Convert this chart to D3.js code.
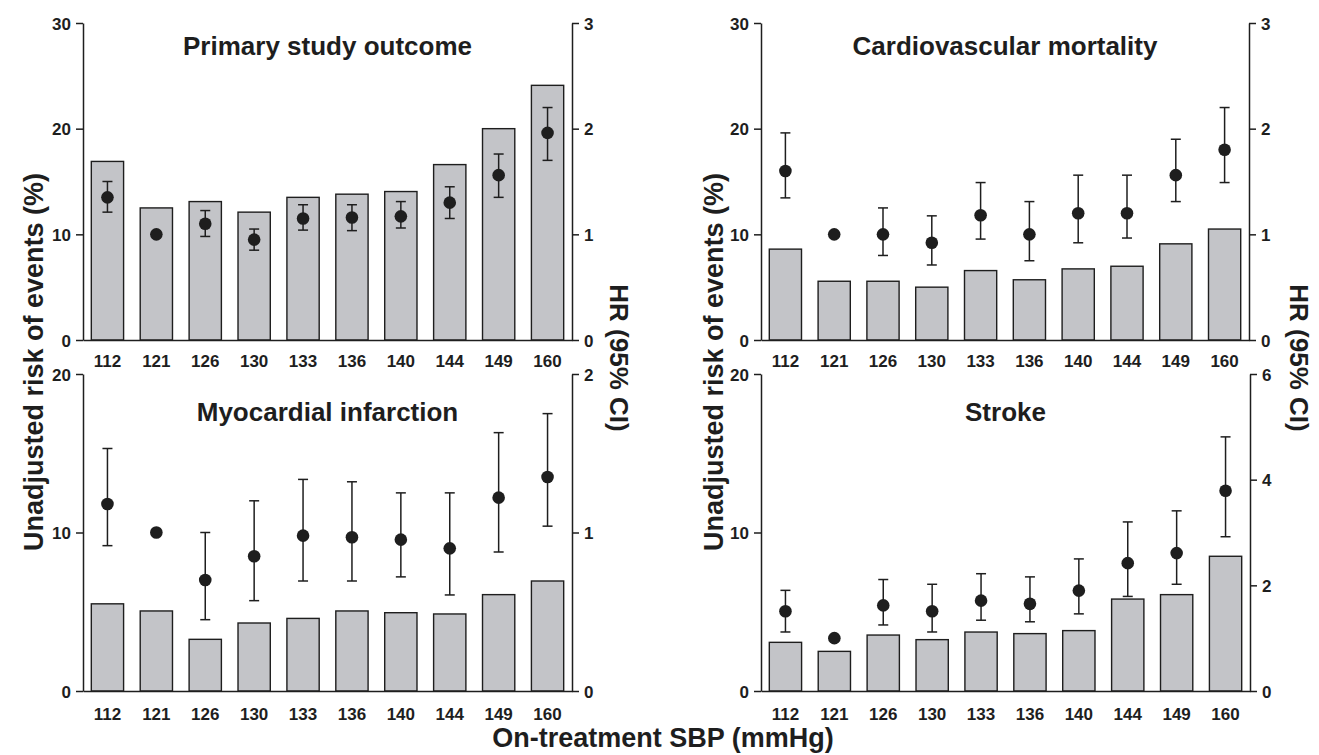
<!DOCTYPE html>
<html>
<head>
<meta charset="utf-8">
<script src="https://cdn.jsdelivr.net/npm/d3@7"></script>
<style>
  html, body { margin: 0; padding: 0; background: #fff; }
  svg { display: block; }
  text { font-family: "Liberation Sans", Arial, sans-serif; font-weight: bold; fill: #1e1e1e; }
</style>
</head>
<body>
<svg id="chart" width="1319" height="755"></svg>
<script>
// ---- Data ----
const categories = ["112", "121", "126", "130", "133", "136", "140", "144", "149", "160"];

// Primary study outcome
const primaryRisk = [16.9, 12.5, 13.1, 12.1, 13.5, 13.8, 14.05, 16.6, 20.0, 24.1];
const primaryHR   = [1.35, 1.0, 1.10, 0.95, 1.15, 1.16, 1.17, 1.30, 1.56, 1.96];
const primaryLo   = [1.21, null, 0.98, 0.85, 1.04, 1.035, 1.06, 1.15, 1.35, 1.70];
const primaryHi   = [1.50, null, 1.225, 1.05, 1.28, 1.28, 1.31, 1.45, 1.76, 2.20];

// Cardiovascular mortality
const cvRisk = [8.6, 5.56, 5.56, 5.0, 6.57, 5.7, 6.73, 6.98, 9.1, 10.5];
const cvHR   = [1.60, 1.0, 1.0, 0.92, 1.18, 1.0, 1.20, 1.20, 1.56, 1.80];
const cvLo   = [1.345, null, 0.80, 0.71, 0.955, 0.75, 0.92, 0.965, 1.31, 1.49];
const cvHi   = [1.96, null, 1.25, 1.175, 1.49, 1.31, 1.56, 1.56, 1.90, 2.20];

// Myocardial infarction
const miRisk = [5.5, 5.05, 3.26, 4.29, 4.58, 5.05, 4.94, 4.86, 6.08, 6.94];
const miHR   = [1.18, 1.0, 0.70, 0.85, 0.98, 0.97, 0.955, 0.90, 1.22, 1.35];
const miLo   = [0.917, null, 0.45, 0.57, 0.694, 0.694, 0.72, 0.606, 0.877, 1.04];
const miHi   = [1.53, null, 1.0, 1.20, 1.335, 1.32, 1.25, 1.25, 1.63, 1.75];

// Stroke
const strokeRisk = [3.07, 2.50, 3.53, 3.24, 3.72, 3.62, 3.81, 5.80, 6.08, 8.50];
const strokeHR   = [1.51, 1.0, 1.62, 1.51, 1.71, 1.65, 1.90, 2.42, 2.61, 3.79];
const strokeLo   = [1.117, null, 1.25, 1.117, 1.34, 1.31, 1.46, 1.79, 2.02, 2.92];
const strokeHi   = [1.905, null, 2.11, 2.02, 2.22, 2.16, 2.50, 3.20, 3.41, 4.81];

// Axis ticks
const riskTicksTop = [0, 10, 20, 30];
const riskTicksBottom = [0, 10, 20];
const hrTicksTop = [0, 1, 2, 3];
const hrTicksMI = [0, 1, 2];
const hrTicksStroke = [0, 2, 4, 6];

const panelTitles = ["Primary study outcome", "Cardiovascular mortality", "Myocardial infarction", "Stroke"];
const yTitle = "Unadjusted risk of events (%)";
const hrTitle = "HR (95% CI)";
const xTitle = "On-treatment SBP (mmHg)";

// ---- Layout ----
const svg = d3.select("#chart");
const ink = "#1e1e1e";
const barFill = "#c3c4c8";

const panels = [
  { title: panelTitles[0], risk: primaryRisk, hr: primaryHR, lo: primaryLo, hi: primaryHi,
    riskTicks: riskTicksTop, hrTicks: hrTicksTop, x0: 83, x1: 572, y0: 23, y1: 340, titleY: 55, labelY: 27 },
  { title: panelTitles[1], risk: cvRisk, hr: cvHR, lo: cvLo, hi: cvHi,
    riskTicks: riskTicksTop, hrTicks: hrTicksTop, x0: 761, x1: 1249, y0: 23, y1: 340, titleY: 55, labelY: 27 },
  { title: panelTitles[2], risk: miRisk, hr: miHR, lo: miLo, hi: miHi,
    riskTicks: riskTicksBottom, hrTicks: hrTicksMI, x0: 83, x1: 572, y0: 374, y1: 691, titleY: 421, labelY: 29 },
  { title: panelTitles[3], risk: strokeRisk, hr: strokeHR, lo: strokeLo, hi: strokeHi,
    riskTicks: riskTicksBottom, hrTicks: hrTicksStroke, x0: 761, x1: 1250, y0: 374, y1: 691, titleY: 421, labelY: 29 }
];

panels.forEach(p => {
  const g = svg.append("g");
  const x = d3.scaleBand().domain(categories).range([p.x0, p.x1]).paddingInner(0.34).paddingOuter(0.17);
  const yL = d3.scaleLinear().domain([0, d3.max(p.riskTicks)]).range([p.y1, p.y0]);
  const yR = d3.scaleLinear().domain([0, d3.max(p.hrTicks)]).range([p.y1, p.y0]);

  // bars
  g.selectAll("rect.bar").data(categories).join("rect")
    .attr("class", "bar")
    .attr("x", d => x(d))
    .attr("width", x.bandwidth())
    .attr("y", (d, i) => yL(p.risk[i]))
    .attr("height", (d, i) => yL(0) - yL(p.risk[i]))
    .attr("fill", barFill)
    .attr("stroke", ink)
    .attr("stroke-width", 1.4);

  // error bars
  const cap = 5;
  const eb = g.selectAll("g.eb").data(categories.map((c, i) => ({ c, hr: p.hr[i], lo: p.lo[i], hi: p.hi[i] })).filter(d => d.lo !== null))
    .join("g").attr("class", "eb");
  eb.append("line")
    .attr("x1", d => x(d.c) + x.bandwidth() / 2).attr("x2", d => x(d.c) + x.bandwidth() / 2)
    .attr("y1", d => yR(d.lo)).attr("y2", d => yR(d.hi))
    .attr("stroke", ink).attr("stroke-width", 1.5);
  eb.append("line")
    .attr("x1", d => x(d.c) + x.bandwidth() / 2 - cap).attr("x2", d => x(d.c) + x.bandwidth() / 2 + cap)
    .attr("y1", d => yR(d.lo)).attr("y2", d => yR(d.lo))
    .attr("stroke", ink).attr("stroke-width", 1.5);
  eb.append("line")
    .attr("x1", d => x(d.c) + x.bandwidth() / 2 - cap).attr("x2", d => x(d.c) + x.bandwidth() / 2 + cap)
    .attr("y1", d => yR(d.hi)).attr("y2", d => yR(d.hi))
    .attr("stroke", ink).attr("stroke-width", 1.5);

  // points
  g.selectAll("circle.pt").data(categories).join("circle")
    .attr("class", "pt")
    .attr("cx", d => x(d) + x.bandwidth() / 2)
    .attr("cy", (d, i) => yR(p.hr[i]))
    .attr("r", 6.3)
    .attr("fill", ink);

  // left axis
  const gl = g.append("g").attr("transform", `translate(${p.x0},0)`)
    .call(d3.axisLeft(yL).tickValues(p.riskTicks).tickSize(7).tickSizeOuter(0).tickPadding(5).tickFormat(d3.format("d")));
  // right axis
  const gr = g.append("g").attr("transform", `translate(${p.x1},0)`)
    .call(d3.axisRight(yR).tickValues(p.hrTicks).tickSize(7).tickSizeOuter(0).tickPadding(5).tickFormat(d3.format("d")));
  // bottom axis
  const gb = g.append("g").attr("transform", `translate(0,${p.y1})`)
    .call(d3.axisBottom(x).tickSize(0).tickSizeOuter(0));
  gb.selectAll("text").attr("y", p.labelY).attr("dy", null);

  [gl, gr, gb].forEach(a => {
    a.selectAll("path.domain").attr("stroke", ink).attr("stroke-width", 1.5);
    a.selectAll(".tick line").attr("stroke", ink).attr("stroke-width", 1.5);
    a.selectAll("text").attr("font-size", 17).attr("font-family", "\"Liberation Sans\", Arial, sans-serif")
      .attr("font-weight", "bold").attr("fill", ink);
  });
  gl.selectAll("text").attr("dy", "0.36em");
  gr.selectAll("text").attr("dy", "0.36em");

  // panel title
  g.append("text")
    .attr("x", (p.x0 + p.x1) / 2)
    .attr("y", p.titleY)
    .attr("text-anchor", "middle")
    .attr("font-size", 26)
    .text(p.title);
});

// axis titles
[43, 723].forEach(bx => {
  svg.append("text")
    .attr("transform", `translate(${bx},362) rotate(-90)`)
    .attr("text-anchor", "middle")
    .attr("font-size", 27)
    .text(yTitle);
});
[610, 1290].forEach(bx => {
  svg.append("text")
    .attr("transform", `translate(${bx},358) rotate(90)`)
    .attr("text-anchor", "middle")
    .attr("font-size", 26)
    .text(hrTitle);
});
svg.append("text")
  .attr("x", 663)
  .attr("y", 747)
  .attr("text-anchor", "middle")
  .attr("font-size", 27)
  .text(xTitle);
</script>
</body>
</html>
